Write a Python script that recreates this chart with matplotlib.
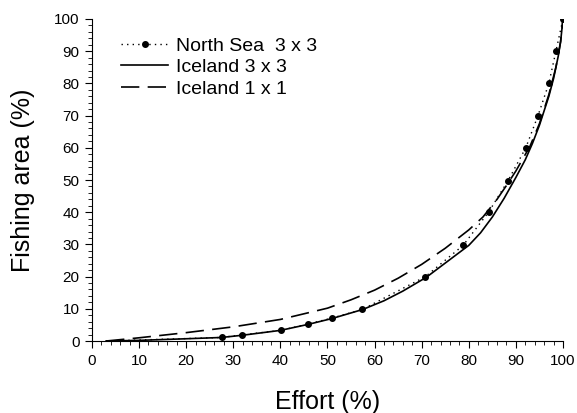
import matplotlib.pyplot as plt
from matplotlib.ticker import MultipleLocator

plt.rcParams['font.family'] = ['Liberation Sans', 'DejaVu Sans']

# North Sea 3 x 3 (first point is the start of the line, no marker)
ns_effort = [3, 27.5, 31.8, 40.1, 45.9, 50.9, 57.4, 70.8, 78.8, 84.2, 88.3, 92.1, 94.7, 97.0, 98.5, 100]
ns_area = [0, 1.1, 1.9, 3.3, 5.3, 7.1, 9.8, 20, 29.7, 40, 49.7, 60, 70, 80, 90, 100]

# Iceland 3 x 3
ic3_effort = [3, 10, 20, 27.5, 32, 40, 46, 51, 57.5, 62, 66, 71, 75, 80, 82.5, 85, 87.5, 90, 92,
              93.5, 95, 96, 97, 98, 98.5, 99, 99.5, 100]
ic3_area = [0, 0.2, 0.7, 1.1, 1.8, 3.3, 5.2, 7.0, 9.8, 12.5, 15.5, 19.8, 24.2, 29.7, 33.6, 38.5, 44.3, 50.8, 56.3,
            61.3, 67, 71.5, 76, 81.5, 85, 88.5, 93, 100]

# Iceland 1 x 1
ic1_effort = [3, 10, 20, 30, 40, 50, 55, 60, 65, 70, 75, 80, 83, 86, 88, 90, 93, 95, 97, 98.5, 99.5, 100]
ic1_area = [0, 1.0, 2.6, 4.4, 6.7, 10.2, 12.8, 15.8, 19.5, 23.8, 28.8, 34.5, 38.5, 44, 48.3, 52.8, 60.5,
            67.5, 76.5, 85, 93, 100]

fig = plt.figure(figsize=(5.77, 4.13), dpi=100)
ax = fig.add_axes([0.1594, 0.1743, 0.8163, 0.7797])

ax.plot(ns_effort, ns_area, color='black', linestyle=(0, (1, 3)), linewidth=1.0,
        marker='o', markersize=4, markevery=list(range(1, len(ns_effort))),
        label='North Sea  3 x 3')
ax.plot(ic3_effort, ic3_area, color='black', linestyle='-', linewidth=1.2,
        label='Iceland 3 x 3')
ax.plot(ic1_effort, ic1_area, color='black', linestyle=(0, (11, 5)), linewidth=1.2,
        label='Iceland 1 x 1')

ax.set_xlim(0, 100)
ax.set_ylim(0, 100)
ax.xaxis.set_major_locator(MultipleLocator(10))
ax.xaxis.set_minor_locator(MultipleLocator(2))
ax.yaxis.set_major_locator(MultipleLocator(10))
ax.yaxis.set_minor_locator(MultipleLocator(2))
ax.tick_params(which='major', direction='out', length=5, width=0.8, labelsize=11, pad=4)
ax.tick_params(which='minor', direction='out', length=3, width=0.6)

ax.spines['top'].set_visible(False)
ax.spines['right'].set_visible(False)
ax.spines['left'].set_linewidth(0.8)
ax.spines['bottom'].set_linewidth(0.8)

ax.set_xlabel('Effort (%)', fontsize=18, labelpad=16)
ax.set_ylabel('Fishing area (%)', fontsize=18, labelpad=14)

ax.legend(loc='upper left', bbox_to_anchor=(0.025, 0.998), frameon=False, fontsize=14,
          handlelength=2.4, handletextpad=0.4, labelspacing=0.2)

fig.savefig('out.png', dpi=100)
